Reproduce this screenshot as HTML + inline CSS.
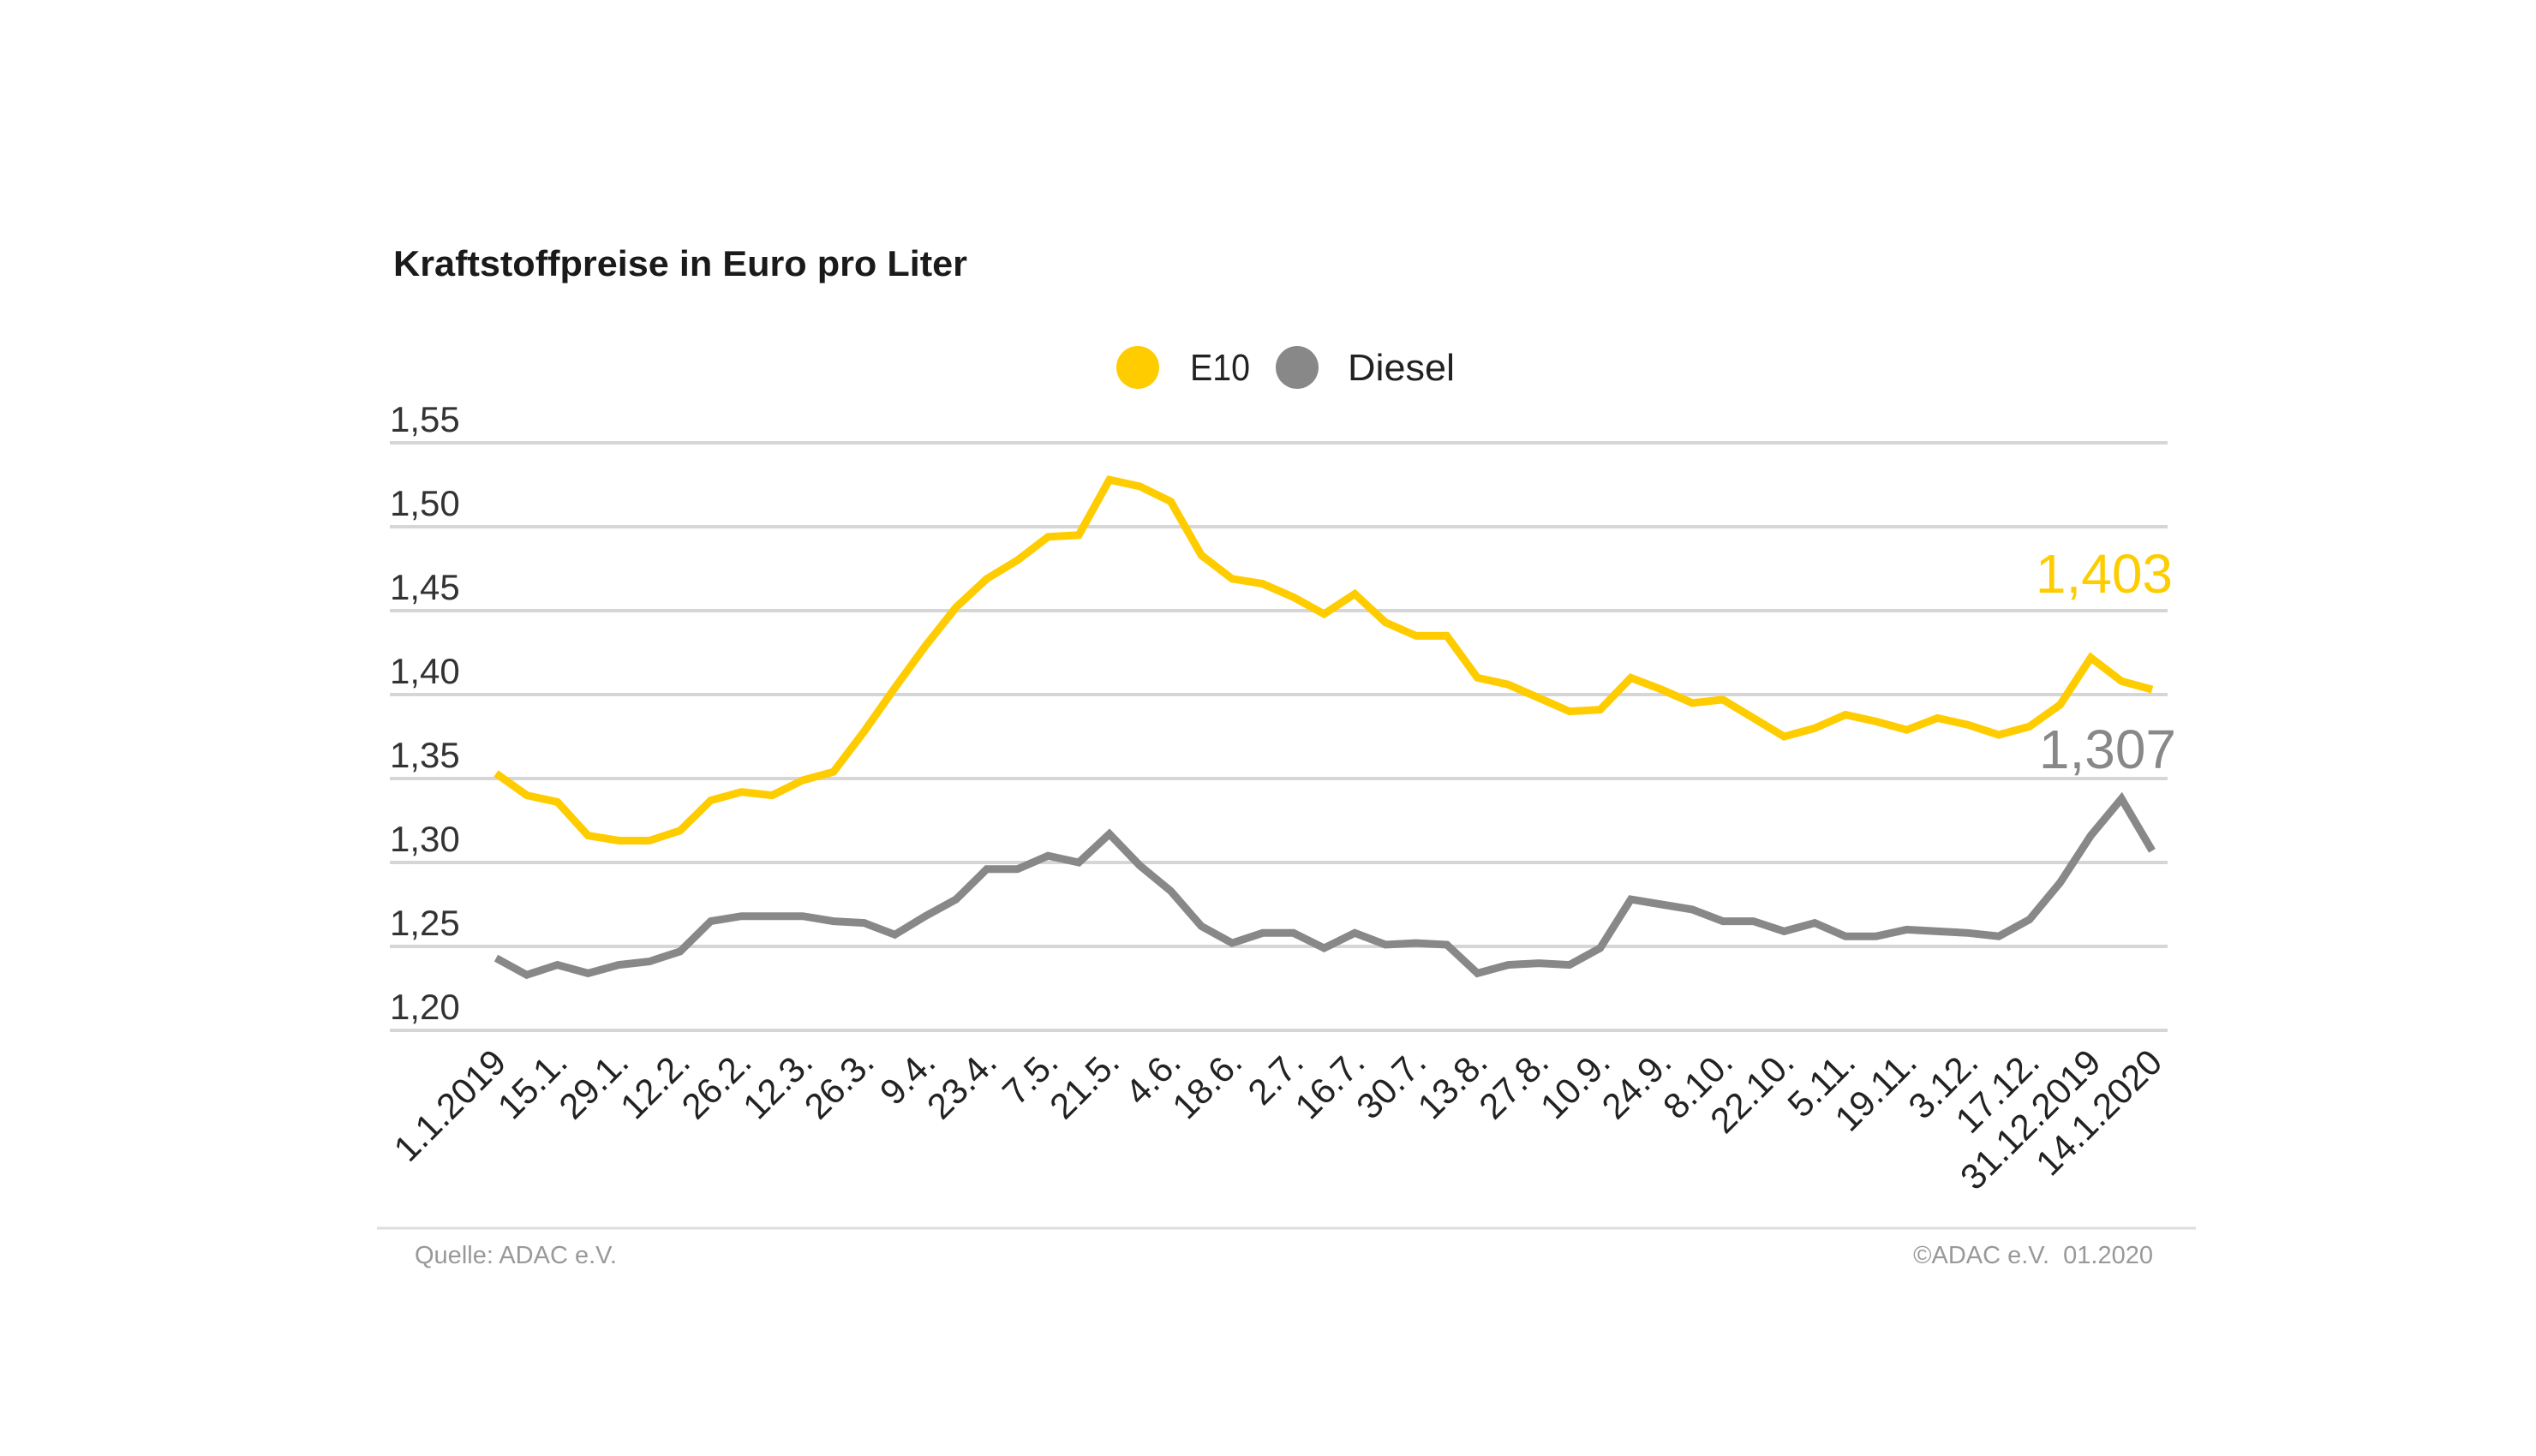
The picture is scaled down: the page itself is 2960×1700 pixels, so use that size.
<!DOCTYPE html>
<html><head><meta charset="utf-8"><style>
html,body{margin:0;padding:0;background:#fff;}
svg{display:block;font-family:"Liberation Sans",sans-serif;}
</style></head><body>
<svg id="c" width="2960" height="1700" viewBox="0 0 2960 1700" xmlns="http://www.w3.org/2000/svg">
<rect width="2960" height="1700" fill="#fff"/>
<text x="459" y="322" font-size="42" font-weight="bold" fill="#1a1a1a" textLength="670" lengthAdjust="spacingAndGlyphs">Kraftstoffpreise in Euro pro Liter</text>
<circle cx="1328" cy="429" r="25" fill="#FFCC00"/>
<text x="1389" y="444" font-size="44" fill="#222" textLength="70" lengthAdjust="spacingAndGlyphs">E10</text>
<circle cx="1514" cy="429" r="25" fill="#888"/>
<text x="1573" y="444" font-size="44" fill="#222" textLength="125" lengthAdjust="spacingAndGlyphs">Diesel</text>
<g id="grid"></g>
<g id="lines"></g>
<g id="xl"></g>
<text x="2536" y="692" font-size="64" fill="#FFCC00" text-anchor="end">1,403</text>
<text x="2540" y="897" font-size="64" fill="#888" text-anchor="end">1,307</text>
<line x1="440" y1="1434" x2="2563" y2="1434" stroke="#ddd" stroke-width="3"/>
<text x="484" y="1475" font-size="29" fill="#999">Quelle: ADAC e.V.</text>
<text x="2513" y="1475" font-size="29" fill="#999" text-anchor="end" xml:space="preserve">©ADAC e.V.  01.2020</text>
</svg>
<script>
var NS="http://www.w3.org/2000/svg";
function el(t,a,p,txt){var e=document.createElementNS(NS,t);for(var k in a)e.setAttribute(k,a[k]);if(txt)e.textContent=txt;p.appendChild(e);return e;}
function Y(v){return 517+(1.55-v)/0.05*98;}
function X(i){return 579+i*(2512-579)/54;}
var g=document.getElementById('grid');
var yl=["1,55","1,50","1,45","1,40","1,35","1,30","1,25","1,20"];
for(var i=0;i<8;i++){var v=1.55-i*0.05,y=Y(v);
el('line',{x1:455,y1:y,x2:2530,y2:y,stroke:'#d6d6d6','stroke-width':4},g);
el('text',{x:455,y:y-13,'font-size':42,fill:'#333'},g,yl[i]);}
var e10=[1.353,1.340,1.336,1.316,1.313,1.313,1.319,1.337,1.342,1.340,1.349,1.354,1.378,1.404,1.429,1.452,1.469,1.480,1.494,1.495,1.528,1.524,1.515,1.483,1.469,1.466,1.458,1.448,1.460,1.443,1.435,1.435,1.410,1.406,1.398,1.390,1.391,1.410,1.403,1.395,1.397,1.386,1.375,1.380,1.388,1.384,1.379,1.386,1.382,1.376,1.381,1.394,1.422,1.408,1.403];
var die=[1.243,1.233,1.239,1.234,1.239,1.241,1.247,1.265,1.268,1.268,1.268,1.265,1.264,1.257,1.268,1.278,1.296,1.296,1.304,1.300,1.317,1.298,1.283,1.262,1.252,1.258,1.258,1.249,1.258,1.251,1.252,1.251,1.234,1.239,1.240,1.239,1.249,1.278,1.275,1.272,1.265,1.265,1.259,1.264,1.256,1.256,1.260,1.259,1.258,1.256,1.266,1.288,1.316,1.338,1.307];
var L=document.getElementById('lines');
function pl(d,c){var p=d.map(function(v,i){return X(i).toFixed(1)+","+Y(v).toFixed(1)}).join(" ");
el('polyline',{points:p,fill:'none',stroke:c,'stroke-width':9,'stroke-linejoin':'miter','stroke-linecap':'butt'},L);}
pl(die,'#888');pl(e10,'#FFCC00');
var labs=["1.1.2019","15.1.","29.1.","12.2.","26.2.","12.3.","26.3.","9.4.","23.4.","7.5.","21.5.","4.6.","18.6.","2.7.","16.7.","30.7.","13.8.","27.8.","10.9.","24.9.","8.10.","22.10.","5.11.","19.11.","3.12.","17.12.","31.12.2019","14.1.2020"];
var xl=document.getElementById('xl');
for(var k=0;k<labs.length;k++){var x=X(2*k)+14,y=1243;
el('text',{x:x,y:y,'font-size':42,fill:'#222','text-anchor':'end',transform:'rotate(-45 '+x+' '+y+')'},xl,labs[k]);}
</script>
</body></html>
